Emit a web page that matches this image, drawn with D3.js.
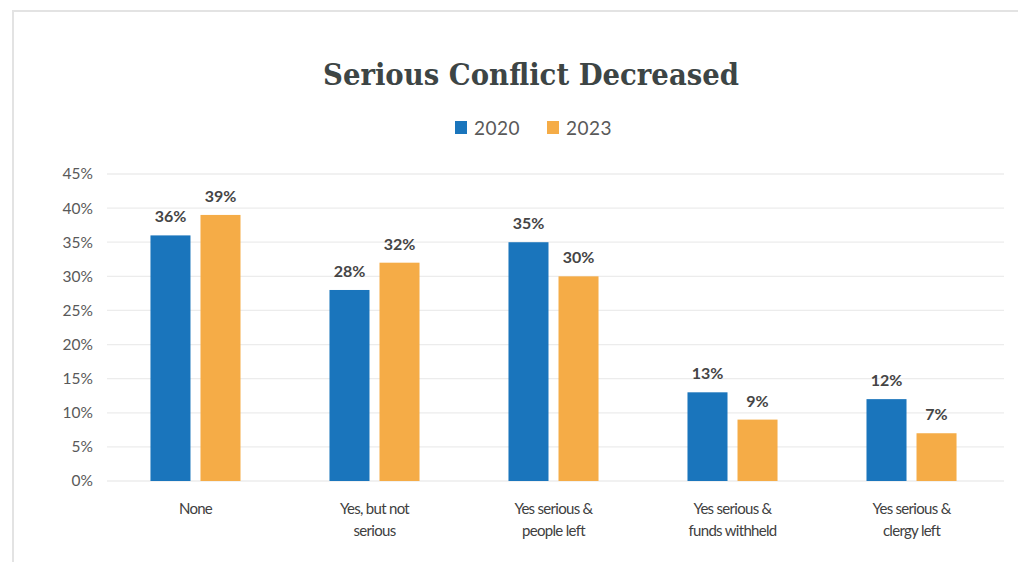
<!DOCTYPE html>
<html><head><meta charset="utf-8">
<script src="https://cdn.jsdelivr.net/npm/d3@7"></script>
<style>body{margin:0;background:#fff}svg{display:block}</style>
</head><body><svg id="c" width="1018" height="562"></svg>
<script>
const categories = [["None"],["Yes, but not","serious"],["Yes serious &","people left"],["Yes serious &","funds withheld"],["Yes serious &","clergy left"]];
const seriesNames = ["2020","2023"];
const values2020 = [36,28,35,13,12];
const values2023 = [39,32,30,9,7];
const yTicks = [0,5,10,15,20,25,30,35,40,45];
const colors = ["#1a75bc","#f5ac47"];

const svg = d3.select("#c");
// frame
svg.append("rect").attr("x",13).attr("y",11).attr("width",1020).attr("height",560)
  .attr("fill","#fff").attr("stroke","#e3e3e3").attr("stroke-width",2);

const pL=105, pR=1002, pT=174, pB=481;
const y = d3.scaleLinear().domain([0,45]).range([pB,pT]);
const x0 = d3.scaleBand().domain(d3.range(categories.length)).range([pL,pR]).paddingInner(0.497).paddingOuter(0.254);
const x1 = d3.scaleBand().domain([0,1]).range([0,x0.bandwidth()]).paddingInner(0.2);

// grid
svg.append("g").selectAll("line").data(yTicks).join("line")
  .attr("x1",107).attr("x2",1004).attr("y1",d=>y(d)).attr("y2",d=>y(d))
  .attr("stroke","#ececec").attr("stroke-width",1.3);

// y axis labels
const yAxis = d3.axisLeft(y).tickValues(yTicks).tickFormat(d=>d+"%").tickSize(0).tickPadding(0);
const ga = svg.append("g").attr("transform",`translate(93,0)`).call(yAxis);
ga.select(".domain").remove();
ga.selectAll("text").attr("font-family","Lato").attr("font-size",15.5).attr("fill","#595959");

const data = [values2020, values2023];
data.forEach((vals,si)=>{
  const g = svg.append("g");
  g.selectAll("rect").data(vals).join("rect")
    .attr("x",(d,i)=>x0(i)+x1(si)).attr("width",x1.bandwidth())
    .attr("y",d=>y(d)).attr("height",d=>pB-y(d)).attr("fill",colors[si]);
  g.selectAll("text").data(vals).join("text")
    .attr("x",(d,i)=>x0(i)+x1(si)+x1.bandwidth()/2).attr("y",d=>y(d)-13)
    .attr("text-anchor","middle").attr("font-family","Lato").attr("font-weight","bold")
    .attr("font-size",16).attr("fill","#454545").text(d=>d+"%");
});

// category labels
const gx = svg.append("g");
categories.forEach((lines,i)=>{
  const cx = x0(i)+x0.bandwidth()/2;
  const t = gx.append("text").attr("x",cx).attr("y",514)
    .attr("text-anchor","middle").attr("font-family","Lato").attr("font-size",15)
    .attr("fill","#404040").attr("letter-spacing",-0.7);
  lines.forEach((l,j)=>t.append("tspan").attr("x",cx).attr("dy",j?22:0).text(l));
});

// title
svg.append("text").attr("x",531).attr("y",85).attr("text-anchor","middle")
  .attr("font-family","DejaVu Serif").attr("font-weight","bold").attr("font-size",29)
  .attr("textLength",416).attr("lengthAdjust","spacingAndGlyphs")
  .attr("fill","#3d4545").text("Serious Conflict Decreased");

// legend
const legX=[455,547];
seriesNames.forEach((n,i)=>{
  svg.append("rect").attr("x",legX[i]).attr("y",121).attr("width",12).attr("height",13).attr("fill",colors[i]);
  svg.append("text").attr("x",legX[i]+19).attr("y",134.5).attr("font-family","Lato")
    .attr("font-size",19).attr("fill","#595959").attr("letter-spacing",0.5).text(n);
});
</script></body></html>
